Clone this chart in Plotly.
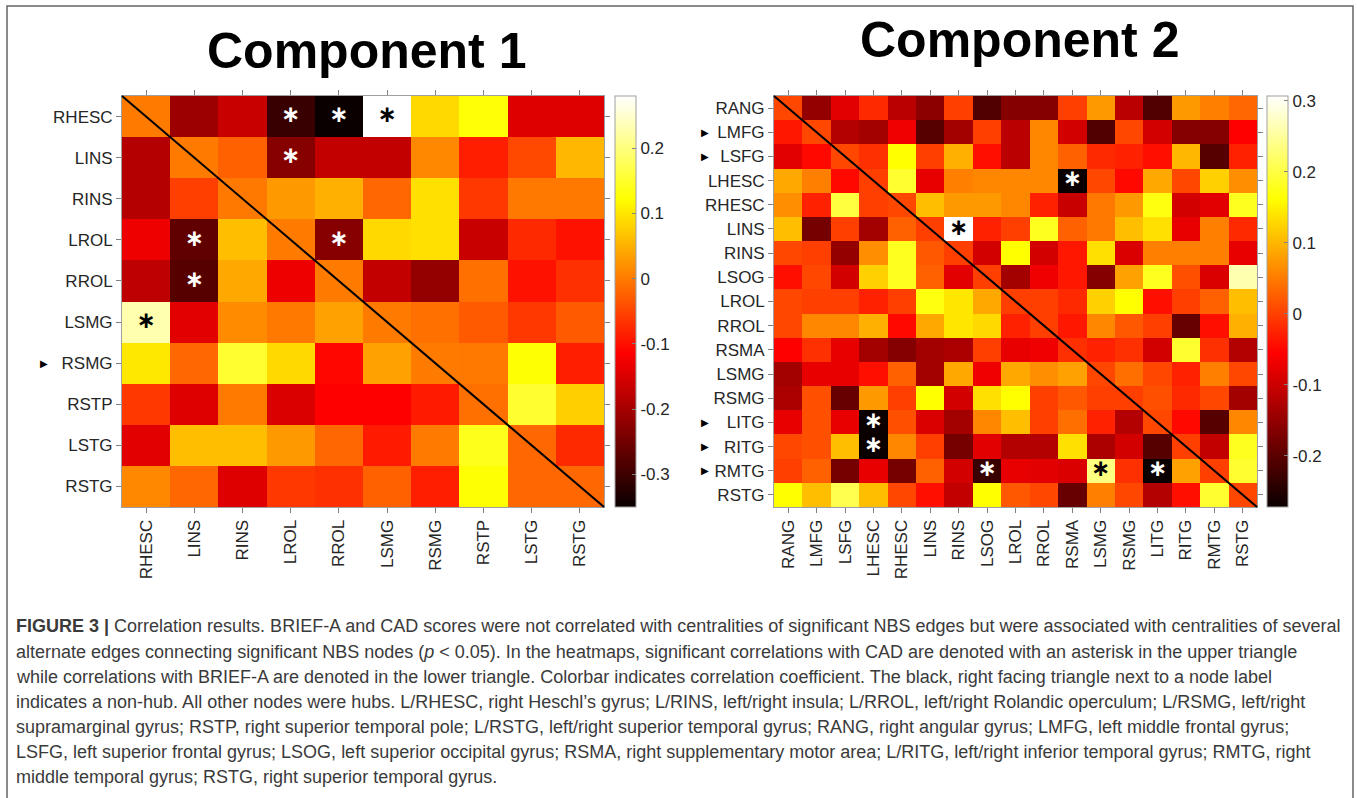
import plotly.graph_objects as go

# ---------------- data ----------------
labels1 = ["RHESC", "LINS", "RINS", "LROL", "RROL", "LSMG", "RSMG", "RSTP", "LSTG", "RSTG"]
nonhub1 = ["RSMG"]
comp1 = [
    [0.000, -0.208, -0.167, -0.306, -0.350, 0.280, 0.087, 0.126, -0.146, -0.146],
    [-0.186, 0.000, -0.025, -0.230, -0.173, -0.173, 0.012, -0.085, -0.047, 0.056],
    [-0.186, -0.055, -0.003, 0.028, 0.049, -0.017, 0.094, -0.062, -0.003, -0.003],
    [-0.130, -0.266, 0.063, 0.000, -0.230, 0.087, 0.094, -0.167, -0.076, -0.098],
    [-0.177, -0.276, 0.042, -0.130, 0.000, -0.173, -0.217, -0.010, -0.098, -0.069],
    [0.230, -0.142, 0.015, -0.003, 0.035, 0.000, -0.010, -0.030, -0.062, -0.030],
    [0.101, -0.017, 0.152, 0.087, -0.107, 0.035, 0.000, -0.003, 0.125, -0.085],
    [-0.062, -0.146, 0.000, -0.148, -0.114, -0.114, -0.090, -0.010, 0.152, 0.078],
    [-0.142, 0.063, 0.063, 0.028, -0.017, -0.090, 0.000, 0.140, -0.017, -0.076],
    [0.012, -0.017, -0.146, -0.062, -0.069, -0.025, -0.085, 0.125, -0.017, -0.017],
]
stars1 = [(0, 3), (0, 4), (0, 5), (1, 3), (3, 1), (3, 4), (4, 1), (5, 0)]
range1 = [-0.35, 0.28]
ticks1 = [-0.3, -0.2, -0.1, 0, 0.1, 0.2]

labels2 = ["RANG", "LMFG", "LSFG", "LHESC", "RHESC", "LINS", "RINS", "LSOG", "LROL",
           "RROL", "RSMA", "LSMG", "RSMG", "LITG", "RITG", "RMTG", "RSTG"]
nonhub2 = ["LMFG", "LSFG", "LITG", "RITG", "RMTG"]
comp2 = [
    [0.006, -0.150, -0.081, -0.020, -0.116, -0.157, -0.001, -0.209, -0.163, -0.163, -0.001, 0.075, -0.116, -0.209, 0.075, 0.054, 0.034],
    [-0.035, 0.006, -0.122, -0.136, -0.068, -0.204, -0.136, -0.001, -0.116, 0.060, -0.094, -0.209, 0.006, -0.094, -0.163, -0.163, -0.055],
    [-0.081, -0.048, 0.006, -0.014, 0.162, -0.001, 0.095, -0.042, -0.116, 0.060, 0.027, -0.020, -0.027, -0.042, 0.101, -0.204, -0.027],
    [0.088, 0.054, -0.048, -0.001, 0.189, -0.075, 0.054, 0.060, 0.060, 0.060, -0.272, 0.006, -0.048, 0.088, 0.006, 0.123, 0.067],
    [0.067, -0.027, 0.198, -0.001, 0.006, 0.108, 0.075, 0.075, 0.060, -0.027, -0.103, 0.047, 0.075, 0.171, -0.094, -0.081, 0.180],
    [0.108, -0.177, -0.001, -0.136, 0.027, -0.001, 0.307, -0.027, -0.001, 0.180, 0.027, 0.047, 0.108, 0.136, -0.075, 0.054, -0.020],
    [0.006, -0.001, -0.150, 0.067, 0.180, 0.020, -0.001, -0.094, 0.162, -0.094, -0.035, 0.136, -0.087, 0.054, 0.054, 0.054, -0.075],
    [-0.042, 0.006, -0.094, 0.123, 0.180, 0.027, -0.081, -0.001, -0.136, -0.068, -0.035, -0.163, 0.082, 0.180, 0.013, -0.087, 0.262],
    [0.006, -0.001, -0.001, -0.027, -0.001, 0.171, 0.142, 0.088, -0.001, -0.001, -0.020, 0.123, 0.162, -0.042, -0.001, 0.027, 0.108],
    [0.006, 0.060, 0.060, 0.095, -0.048, 0.088, 0.142, 0.130, -0.027, -0.001, -0.035, 0.060, 0.020, -0.001, -0.190, -0.042, 0.095],
    [-0.055, -0.014, -0.075, -0.136, -0.163, -0.136, -0.130, -0.001, -0.075, -0.068, -0.014, -0.027, -0.014, -0.094, 0.189, -0.014, -0.122],
    [-0.136, -0.075, -0.075, -0.042, 0.027, -0.136, 0.088, -0.068, 0.088, 0.067, 0.082, 0.006, 0.040, 0.006, -0.027, 0.054, 0.006],
    [-0.130, 0.013, -0.190, 0.075, -0.001, 0.162, -0.094, 0.136, 0.162, -0.001, 0.020, -0.001, -0.001, 0.013, -0.020, 0.006, -0.136],
    [-0.075, 0.013, -0.075, -0.272, 0.013, -0.087, -0.136, 0.060, 0.108, -0.001, 0.040, -0.027, -0.122, 0.006, -0.048, -0.204, 0.060],
    [0.006, 0.013, 0.108, -0.272, 0.060, -0.001, -0.177, -0.081, -0.122, -0.122, 0.136, -0.130, -0.094, -0.204, -0.001, -0.109, 0.180],
    [-0.001, 0.027, -0.177, -0.075, -0.177, 0.027, -0.094, -0.231, -0.075, -0.081, -0.087, 0.235, -0.014, -0.272, 0.082, -0.001, 0.189],
    [0.162, 0.108, 0.207, 0.108, 0.006, -0.042, -0.109, 0.162, 0.020, 0.006, -0.190, 0.054, 0.006, -0.122, -0.042, 0.189, 0.006],
]
stars2 = [(3, 10), (5, 6), (13, 3), (14, 3), (15, 7), (15, 11), (15, 13)]
range2 = [-0.272, 0.307]
ticks2 = [-0.2, -0.1, 0, 0.1, 0.2, 0.3]

titles = ["Component 1", "Component 2"]

caption_lines = [
    "<b>FIGURE 3 |</b> Correlation results. BRIEF-A and CAD scores were not correlated with centralities of significant NBS edges but were associated with centralities of several",
    "alternate edges connecting significant NBS nodes (<i>p</i> &lt; 0.05). In the heatmaps, significant correlations with CAD are denoted with an asterisk in the upper triangle",
    "while correlations with BRIEF-A are denoted in the lower triangle. Colorbar indicates correlation coefficient. The black, right facing triangle next to a node label",
    "indicates a non-hub. All other nodes were hubs. L/RHESC, right Heschl\u2019s gyrus; L/RINS, left/right insula; L/RROL, left/right Rolandic operculum; L/RSMG, left/right",
    "supramarginal gyrus; RSTP, right superior temporal pole; L/RSTG, left/right superior temporal gyrus; RANG, right angular gyrus; LMFG, left middle frontal gyrus;",
    "LSFG, left superior frontal gyrus; LSOG, left superior occipital gyrus; RSMA, right supplementary motor area; L/RITG, left/right inferior temporal gyrus; RMTG, right",
    "middle temporal gyrus; RSTG, right superior temporal gyrus.",
]

# ---------------- styling ----------------
W, H = 1357, 798
FONT = "Liberation Sans, Arial, Helvetica, sans-serif"
TXT = "#262626"
hot = [[0.0, "rgb(10,0,0)"], [0.375, "rgb(255,0,0)"], [0.75, "rgb(255,255,0)"], [1.0, "rgb(255,255,255)"]]


def px_x(p):
    return p / W


def px_y(p):
    return 1 - p / H


panels = [
    dict(labels=labels1, z=comp1, stars=stars1, rng=range1, ticks=ticks1, nonhub=nonhub1,
         x0=122, x1=604, cbx=615, tri_x=44, title_x=366, title_y=51),
    dict(labels=labels2, z=comp2, stars=stars2, rng=range2, ticks=ticks2, nonhub=nonhub2,
         x0=774, x1=1257, cbx=1267, tri_x=705, title_x=1019, title_y=40),
]
Y0, Y1 = 96, 507

fig = go.Figure()
annotations = []
shapes = []

for k, p in enumerate(panels):
    suffix = "" if k == 0 else str(k + 1)
    fig.add_trace(go.Heatmap(
        z=p["z"], x=p["labels"], y=p["labels"],
        colorscale=hot, zmin=p["rng"][0], zmax=p["rng"][1],
        xaxis="x" + suffix, yaxis="y" + suffix,
        hoverinfo="skip",
        colorbar=dict(
            x=px_x(p["cbx"]), xanchor="left", xpad=0,
            y=px_y(Y0), yanchor="top", ypad=0,
            len=(Y1 - Y0) / H, lenmode="fraction",
            thickness=21, thicknessmode="pixels",
            outlinewidth=1, outlinecolor="#a0a0a0",
            tickvals=p["ticks"], ticktext=[("%g" % t) for t in p["ticks"]],
            ticks="inside", ticklen=4, tickcolor="#808080",
            tickfont=dict(family=FONT, size=17, color=TXT),
        ),
    ))
    # asterisks: white on dark cells, black on light cells
    mid = 0.5 * (p["rng"][0] + p["rng"][1])
    for dark in (True, False):
        pts = [(r, c) for (r, c) in p["stars"] if (p["z"][r][c] < mid) == dark]
        if not pts:
            continue
        fig.add_trace(go.Scatter(
            x=[p["labels"][c] for (r, c) in pts], y=[p["labels"][r] for (r, c) in pts],
            mode="text", text=["<b>\u2217</b>"] * len(pts), textposition="middle center",
            textfont=dict(size=23, family="DejaVu Sans", color="white" if dark else "black"),
            xaxis="x" + suffix, yaxis="y" + suffix, hoverinfo="skip", showlegend=False,
        ))
    axcommon = dict(showline=True, linecolor="#a0a0a0", linewidth=1, mirror="ticks",
                    ticks="outside", ticklen=5, tickcolor="#808080",
                    tickfont=dict(family=FONT, size=17, color=TXT),
                    showgrid=False, zeroline=False, fixedrange=True)
    n = len(p["labels"])
    fig.update_layout(**{
        "xaxis" + suffix: dict(domain=[px_x(p["x0"]), px_x(p["x1"])], anchor="y" + suffix,
                               tickangle=-90, range=[-0.5, n - 0.5], **axcommon),
        "yaxis" + suffix: dict(domain=[px_y(Y1), px_y(Y0)], anchor="x" + suffix,
                               range=[n - 0.5, -0.5], **axcommon),
    })
    # diagonal
    shapes.append(dict(type="line", xref="x" + suffix + " domain", yref="y" + suffix + " domain",
                       x0=0, y0=1, x1=1, y1=0, line=dict(color="black", width=2)))
    # non-hub triangles
    for lab in p["nonhub"]:
        annotations.append(dict(text="\u25B6", x=px_x(p["tri_x"]), xref="paper", xanchor="center",
                                y=lab, yref="y" + suffix, yanchor="middle", showarrow=False,
                                font=dict(size=10, color="black", family="DejaVu Sans")))
    # title
    annotations.append(dict(text="<b>" + titles[k] + "</b>", x=px_x(p["title_x"]), xref="paper",
                            xanchor="center", y=px_y(p["title_y"]), yref="paper", yanchor="middle",
                            showarrow=False, font=dict(size=50, color="black", family=FONT)))

# caption
cap_y = [626, 652, 677, 702, 727, 752, 777]
for line, yy in zip(caption_lines, cap_y):
    annotations.append(dict(text=line, x=px_x(14), xref="paper", xanchor="left",
                            y=px_y(yy), yref="paper", yanchor="middle", showarrow=False,
                            font=dict(size=18, color="#3a3a3a", family=FONT)))

# frame
shapes.append(dict(type="rect", xref="paper", yref="paper",
                   x0=px_x(7), x1=px_x(1353), y0=px_y(806), y1=px_y(6),
                   line=dict(color="#666666", width=1.5)))

fig.update_layout(
    width=W, height=H, margin=dict(l=0, r=0, t=0, b=0),
    paper_bgcolor="white", plot_bgcolor="white",
    showlegend=False, hovermode=False,
    annotations=annotations, shapes=shapes,
)

fig.write_html("out.html", config={"displayModeBar": False},
               post_script="document.body.style.margin='0px';")
